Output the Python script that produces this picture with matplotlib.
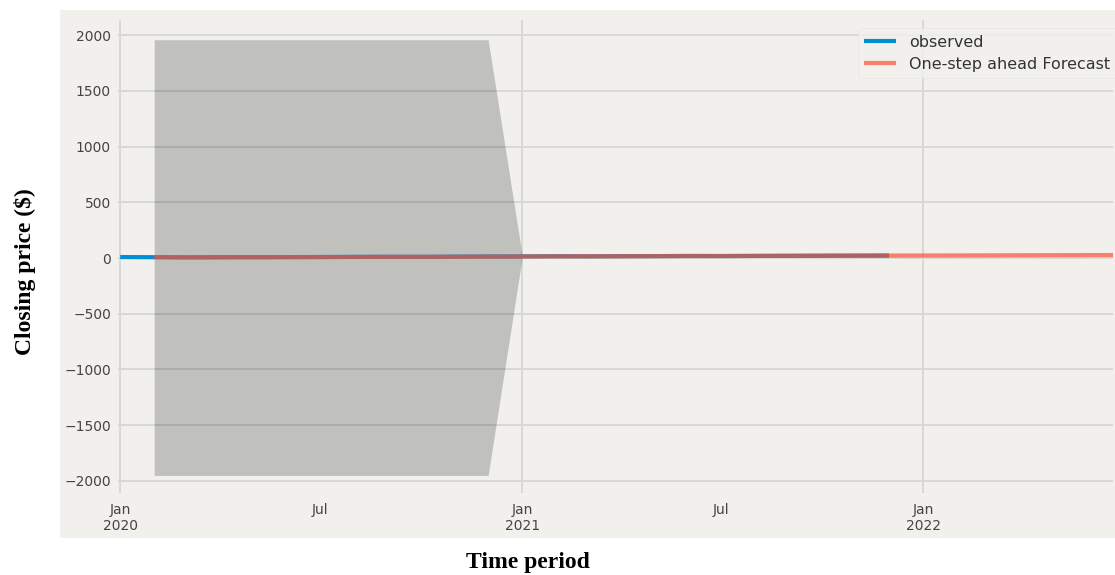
import pandas as pd
import matplotlib
matplotlib.use("Agg")
import matplotlib.pyplot as plt
import matplotlib.dates as mdates
from matplotlib.patches import Rectangle

# -----------------------------------------------------------
# Data (monthly closing prices)
# -----------------------------------------------------------
obs_dates = pd.date_range("2020-01-01", "2021-12-01", freq="MS")
observed = [8.5, 7.2, 5.9, 6.8, 7.5, 8.1, 8.9, 10.2, 11.0, 10.6, 12.4, 13.8,
            14.5, 15.9, 15.1, 16.3, 17.0, 18.2, 17.6, 18.9, 19.8, 20.5, 21.3, 22.0]

fc_dates = pd.date_range("2020-02-01", "2022-07-01", freq="MS")
forecast = [8.1, 6.9, 6.2, 7.0, 7.7, 8.4, 9.3, 10.5, 10.9, 11.1, 12.9,
            14.0, 15.2, 15.4, 16.0, 16.8, 17.9, 17.9, 18.7, 19.6, 20.4, 21.1, 21.9,
            22.5, 23.1, 23.8, 24.6, 25.3, 26.0, 26.8]

ci_dates = pd.date_range("2020-02-01", "2021-01-01", freq="MS")
ci_lower = [-1950, -1950, -1950, -1950, -1950, -1950, -1950, -1950, -1950, -1950, -1950, 5]
ci_upper = [1958, 1958, 1958, 1958, 1958, 1958, 1958, 1958, 1958, 1958, 1958, 25]

# -----------------------------------------------------------
# Plot
# -----------------------------------------------------------
plt.style.use("fivethirtyeight")
fig = plt.figure(figsize=(11.15, 5.75), dpi=100, facecolor="white")

# grey panel behind the axes (the original screenshot)
fig.patches.append(Rectangle((0.0538, 0.0643), 0.9462, 0.9183, transform=fig.transFigure,
                             facecolor="#f1f0ec", edgecolor="none", zorder=-10))

ax = fig.add_axes([0.1058, 0.1426, 0.8925, 0.8226])
ax.set_zorder(1)
ax.set_facecolor("#f1f0ec")

ax.plot(obs_dates, observed, color="#008fd5", lw=3, label="observed")
ax.plot(fc_dates, forecast, color="#fc4f30", lw=3, alpha=0.7, label="One-step ahead Forecast")
ax.fill_between(ci_dates, ci_lower, ci_upper, color="k", alpha=0.2, lw=0)

ax.set_xlim(pd.Timestamp("2019-12-30"), pd.Timestamp("2022-06-23"))
ax.set_ylim(-2108, 2135)
ax.set_yticks(range(-2000, 2001, 500))

ax.xaxis.set_major_locator(mdates.YearLocator())
ax.xaxis.set_major_formatter(mdates.DateFormatter("%b\n%Y"))
ax.xaxis.set_minor_locator(mdates.MonthLocator(bymonth=7))
ax.xaxis.set_minor_formatter(mdates.DateFormatter("%b"))

ax.grid(True, which="major", color="#d6d6d3", lw=1.3)
ax.grid(False, which="minor")
for s in ax.spines.values():
    s.set_visible(False)
ax.tick_params(axis="both", which="both", length=0, labelsize=10, labelcolor="#444444", pad=5)
ax.tick_params(axis="x", which="both", pad=7)

leg = ax.legend(loc="upper right", bbox_to_anchor=(1.008, 0.993), fontsize=11.5,
                frameon=True, borderaxespad=0.3, labelspacing=0.45)
leg.get_frame().set_facecolor("#f1f0ec")
leg.get_frame().set_edgecolor("#e4e4e0")
for t in leg.get_texts():
    t.set_color("#333333")

fig.text(0.0224, 0.527, "Closing price ($)", rotation=90, ha="center", va="center",
         family="Liberation Serif", fontweight="bold", fontsize=17)
fig.text(0.4735, 0.021, "Time period", ha="center", va="center",
         family="Liberation Serif", fontweight="bold", fontsize=17)

fig.savefig("out.png", dpi=100, facecolor="white")
